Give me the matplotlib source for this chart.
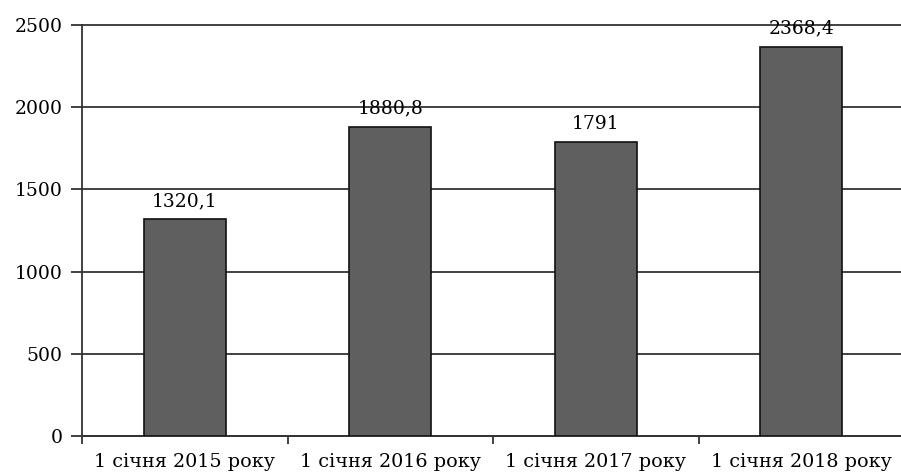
import matplotlib.pyplot as plt
import numpy as np

categories = ['1 січня 2015 року', '1 січня 2016 року', '1 січня 2017 року', '1 січня 2018 року']
values = [1320.1, 1880.8, 1791, 2368.4]
labels = ['1320,1', '1880,8', '1791', '2368,4']

plt.rcParams['font.family'] = ['DejaVu Serif']
fs = 13.5

fig = plt.figure(figsize=(9.01, 4.73), dpi=100)
ax = fig.add_axes([82 / 901, (473 - 436) / 473, (904 - 82) / 901, (436 - 25) / 473])

x = np.arange(len(values))
ax.bar(x, values, width=0.4, color='#5f5f5f', edgecolor='#111111', linewidth=1.2, zorder=3)
for xi, v, t in zip(x, values, labels):
    ax.text(xi, v + 55, t, ha='center', va='bottom', fontsize=fs, zorder=4)

ax.set_xlim(-0.5, 3.5)
ax.set_ylim(0, 2500)
ax.set_yticks(range(0, 2501, 500))
ax.yaxis.grid(True, color='#333333', linewidth=1.3, zorder=0)
for gl in ax.get_ygridlines():
    gl.set_clip_on(False)

# category boundaries get the tick marks, labels sit in the middle
ax.set_xticks(np.arange(-0.5, 4, 1))
ax.set_xticklabels([])
ax.set_xticks(x, minor=True)
ax.set_xticklabels(categories, minor=True, fontsize=13.8)
ax.tick_params(axis='x', which='minor', length=0, pad=12)
ax.tick_params(axis='x', which='major', length=6, width=1.3, color='#333333')
ax.tick_params(axis='y', length=8, width=1.3, color='#333333', labelsize=fs, pad=6)

for s in ['top', 'right']:
    ax.spines[s].set_visible(False)
ax.spines['left'].set_color('#333333')
ax.spines['left'].set_linewidth(1.3)
ax.spines['bottom'].set_color('#333333')
ax.spines['bottom'].set_linewidth(1.3)

fig.savefig('out.png', dpi=100)
